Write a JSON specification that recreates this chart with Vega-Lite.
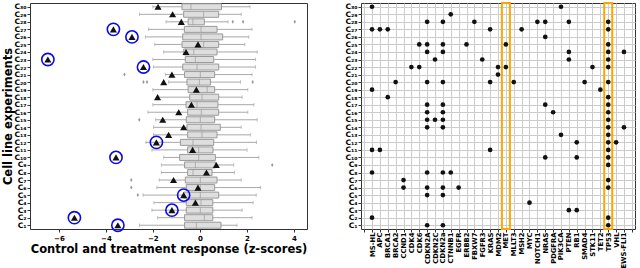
{
  "$schema": "https://vega.github.io/schema/vega-lite/v6.json",
  "padding": {"left": 2, "top": 1, "right": 2, "bottom": 0},
  "spacing": 36,
  "config": {
    "font": "DejaVu Sans",
    "view": {"stroke": "#333333", "strokeWidth": 1},
    "axis": {"labelFontWeight": "bold", "titleFontWeight": "bold", "labelColor": "#000000", "titleColor": "#000000", "tickColor": "#333333", "domain": false, "labelFontSize": 7, "titleFontSize": 11.5, "tickSize": 3}
  },
  "datasets": {
    "boxes": [
      {"exp": "C₃₀", "lw": -2.0, "q1": -0.76, "med": -0.38, "q3": 0.92, "uw": 2.13, "resp": -1.78, "flag": false},
      {"exp": "C₂₉", "lw": -2.57, "q1": -0.69, "med": 0.16, "q3": 0.80, "uw": 1.76, "resp": -1.16, "flag": false},
      {"exp": "C₂₈", "lw": -1.44, "q1": -0.50, "med": -0.30, "q3": 0.19, "uw": 1.20, "resp": -0.79, "flag": false},
      {"exp": "C₂₇", "lw": -2.18, "q1": -0.66, "med": 0.05, "q3": 0.73, "uw": 2.22, "resp": -3.68, "flag": true},
      {"exp": "C₂₆", "lw": -2.32, "q1": -0.73, "med": 0.05, "q3": 0.97, "uw": 2.08, "resp": -2.89, "flag": true},
      {"exp": "C₂₅", "lw": -1.92, "q1": -0.76, "med": 0.16, "q3": 0.80, "uw": 1.91, "resp": -0.08, "flag": false},
      {"exp": "C₂₄", "lw": -1.54, "q1": -0.69, "med": -0.26, "q3": 0.73, "uw": 2.44, "resp": -0.59, "flag": false},
      {"exp": "C₂₃", "lw": -2.0, "q1": -0.62, "med": -0.19, "q3": 0.59, "uw": 2.37, "resp": -6.47, "flag": true},
      {"exp": "C₂₂", "lw": -1.97, "q1": -0.73, "med": -0.12, "q3": 0.80, "uw": 2.37, "resp": -2.40, "flag": true},
      {"exp": "C₂₁", "lw": -1.47, "q1": -0.65, "med": 0.02, "q3": 0.63, "uw": 2.22, "resp": -1.19, "flag": false},
      {"exp": "C₂₀", "lw": -1.33, "q1": -0.55, "med": -0.02, "q3": 0.45, "uw": 1.73, "resp": -1.54, "flag": false},
      {"exp": "C₁₉", "lw": -2.0, "q1": -0.50, "med": 0.31, "q3": 0.63, "uw": 2.04, "resp": -0.15, "flag": false},
      {"exp": "C₁₈", "lw": -1.75, "q1": -0.43, "med": 0.09, "q3": 0.80, "uw": 1.80, "resp": -1.80, "flag": false},
      {"exp": "C₁₇", "lw": -2.0, "q1": -0.59, "med": -0.12, "q3": 0.77, "uw": 2.30, "resp": -0.36, "flag": false},
      {"exp": "C₁₆", "lw": -2.21, "q1": -0.52, "med": 0.06, "q3": 0.80, "uw": 2.04, "resp": -0.90, "flag": false},
      {"exp": "C₁₅", "lw": -1.88, "q1": -0.58, "med": 0.02, "q3": 0.63, "uw": 2.44, "resp": -1.58, "flag": false},
      {"exp": "C₁₄", "lw": -1.97, "q1": -0.55, "med": 0.05, "q3": 0.87, "uw": 1.76, "resp": -0.69, "flag": false},
      {"exp": "C₁₃", "lw": -1.97, "q1": -0.52, "med": 0.09, "q3": 0.73, "uw": 2.15, "resp": -1.33, "flag": false},
      {"exp": "C₁₂", "lw": -2.3, "q1": -0.83, "med": -0.29, "q3": 0.59, "uw": 2.41, "resp": -1.85, "flag": true},
      {"exp": "C₁₁", "lw": -2.04, "q1": -0.52, "med": -0.05, "q3": 0.56, "uw": 2.01, "resp": -0.31, "flag": false},
      {"exp": "C₁₀", "lw": -1.54, "q1": -0.86, "med": -0.05, "q3": 0.66, "uw": 2.51, "resp": -3.57, "flag": true},
      {"exp": "C₉", "lw": -1.64, "q1": -0.65, "med": -0.19, "q3": 0.66, "uw": 1.44, "resp": 0.70, "flag": false},
      {"exp": "C₈", "lw": -1.64, "q1": -0.52, "med": -0.29, "q3": 0.52, "uw": 1.47, "resp": 0.28, "flag": false},
      {"exp": "C₇", "lw": -1.73, "q1": -0.62, "med": 0.02, "q3": 0.73, "uw": 1.76, "resp": -1.12, "flag": false},
      {"exp": "C₆", "lw": -1.83, "q1": -0.58, "med": 0.02, "q3": 0.63, "uw": 2.58, "resp": -0.08, "flag": false},
      {"exp": "C₅", "lw": -2.42, "q1": -0.69, "med": 0.02, "q3": 0.80, "uw": 2.40, "resp": -0.69, "flag": true},
      {"exp": "C₄", "lw": -1.95, "q1": -0.58, "med": 0.05, "q3": 0.55, "uw": 2.27, "resp": -0.19, "flag": false},
      {"exp": "C₃", "lw": -2.04, "q1": -0.58, "med": 0.02, "q3": 0.55, "uw": 1.80, "resp": -1.19, "flag": true},
      {"exp": "C₂", "lw": -1.80, "q1": -0.65, "med": 0.19, "q3": 0.55, "uw": 2.22, "resp": -5.34, "flag": true},
      {"exp": "C₁", "lw": -2.57, "q1": -0.65, "med": -0.15, "q3": 0.90, "uw": 1.58, "resp": -3.49, "flag": true}
    ],
    "outliers": [
      {"exp": "C₂₈", "v": 1.40}, {"exp": "C₂₈", "v": 1.84}, {"exp": "C₂₈", "v": 4.04},
      {"exp": "C₂₁", "v": -3.21},
      {"exp": "C₂₀", "v": -2.40}, {"exp": "C₂₀", "v": -2.25}, {"exp": "C₂₀", "v": 2.25},
      {"exp": "C₁₅", "v": -2.58},
      {"exp": "C₉", "v": 3.08},
      {"exp": "C₇", "v": -2.92},
      {"exp": "C₆", "v": -2.92},
      {"exp": "C₅", "v": -2.64}
    ],
    "hl": [{"gene": "MET"}, {"gene": "TP53"}],
    "muts": [
      {"exp": "C₃₀", "gene": "MS-HL"}, {"exp": "C₃₀", "gene": "PIK3CA"},
      {"exp": "C₂₉", "gene": "CTNNB1"},
      {"exp": "C₂₈", "gene": "CDKN2A"}, {"exp": "C₂₈", "gene": "CDKN2a"}, {"exp": "C₂₈", "gene": "FBXW7"}, {"exp": "C₂₈", "gene": "NOTCH1"}, {"exp": "C₂₈", "gene": "NRAS"}, {"exp": "C₂₈", "gene": "PTEN"}, {"exp": "C₂₈", "gene": "TP53"},
      {"exp": "C₂₇", "gene": "MS-HL"}, {"exp": "C₂₇", "gene": "APC"}, {"exp": "C₂₇", "gene": "BRCA1"}, {"exp": "C₂₇", "gene": "KRAS"}, {"exp": "C₂₇", "gene": "MSH2"}, {"exp": "C₂₇", "gene": "TP53"},
      {"exp": "C₂₆", "gene": "NRAS"},
      {"exp": "C₂₅", "gene": "CDK6"}, {"exp": "C₂₅", "gene": "CDKN2A"}, {"exp": "C₂₅", "gene": "CDKN2a"}, {"exp": "C₂₅", "gene": "ERBB2"}, {"exp": "C₂₅", "gene": "MET"}, {"exp": "C₂₅", "gene": "TP53"},
      {"exp": "C₂₄", "gene": "CDKN2A"}, {"exp": "C₂₄", "gene": "CDKN2a"}, {"exp": "C₂₄", "gene": "PTEN"}, {"exp": "C₂₄", "gene": "TP53"}, {"exp": "C₂₄", "gene": "EWS-FLI1"},
      {"exp": "C₂₃", "gene": "CDKN2C"}, {"exp": "C₂₃", "gene": "FGFR3"}, {"exp": "C₂₃", "gene": "PTEN"}, {"exp": "C₂₃", "gene": "TP53"},
      {"exp": "C₂₂", "gene": "CDK4"}, {"exp": "C₂₂", "gene": "CDK6"}, {"exp": "C₂₂", "gene": "MDM2"}, {"exp": "C₂₂", "gene": "MET"}, {"exp": "C₂₂", "gene": "STK11"}, {"exp": "C₂₂", "gene": "TP53"},
      {"exp": "C₂₁", "gene": "MDM2"},
      {"exp": "C₂₀", "gene": "BRCA2"}, {"exp": "C₂₀", "gene": "CDKN2A"}, {"exp": "C₂₀", "gene": "CDKN2a"}, {"exp": "C₂₀", "gene": "KRAS"}, {"exp": "C₂₀", "gene": "MLLT3"}, {"exp": "C₂₀", "gene": "SMAD4"}, {"exp": "C₂₀", "gene": "TP53"},
      {"exp": "C₁₉", "gene": "MS-HL"}, {"exp": "C₁₉", "gene": "TET2"},
      {"exp": "C₁₈", "gene": "BRCA1"}, {"exp": "C₁₈", "gene": "TP53"},
      {"exp": "C₁₇", "gene": "CDKN2A"}, {"exp": "C₁₇", "gene": "CDKN2a"}, {"exp": "C₁₇", "gene": "NRAS"}, {"exp": "C₁₇", "gene": "TP53"},
      {"exp": "C₁₆", "gene": "CDKN2A"}, {"exp": "C₁₆", "gene": "CDKN2a"}, {"exp": "C₁₆", "gene": "PDGFRA"}, {"exp": "C₁₆", "gene": "TP53"},
      {"exp": "C₁₅", "gene": "CDKN2A"}, {"exp": "C₁₅", "gene": "CDKN2C"}, {"exp": "C₁₅", "gene": "CDKN2a"}, {"exp": "C₁₅", "gene": "TP53"},
      {"exp": "C₁₄", "gene": "CDKN2A"}, {"exp": "C₁₄", "gene": "CDKN2a"}, {"exp": "C₁₄", "gene": "TP53"}, {"exp": "C₁₄", "gene": "EWS-FLI1"},
      {"exp": "C₁₃", "gene": "PIK3CA"}, {"exp": "C₁₃", "gene": "TP53"},
      {"exp": "C₁₂", "gene": "RB1"}, {"exp": "C₁₂", "gene": "TP53"}, {"exp": "C₁₂", "gene": "VHL"},
      {"exp": "C₁₁", "gene": "MS-HL"}, {"exp": "C₁₁", "gene": "APC"}, {"exp": "C₁₁", "gene": "KRAS"}, {"exp": "C₁₁", "gene": "TP53"},
      {"exp": "C₁₀", "gene": "NRAS"}, {"exp": "C₁₀", "gene": "RB1"}, {"exp": "C₁₀", "gene": "TP53"},
      {"exp": "C₉", "gene": "TP53"},
      {"exp": "C₈", "gene": "MS-HL"}, {"exp": "C₈", "gene": "CDKN2A"}, {"exp": "C₈", "gene": "CDKN2a"}, {"exp": "C₈", "gene": "CTNNB1"},
      {"exp": "C₇", "gene": "CCND1"}, {"exp": "C₇", "gene": "TP53"},
      {"exp": "C₆", "gene": "CCND1"}, {"exp": "C₆", "gene": "CDKN2A"}, {"exp": "C₆", "gene": "CDKN2a"}, {"exp": "C₆", "gene": "EGFR"}, {"exp": "C₆", "gene": "TP53"},
      {"exp": "C₅", "gene": "CDKN2A"}, {"exp": "C₅", "gene": "CDKN2a"},
      {"exp": "C₄", "gene": "MYC"},
      {"exp": "C₃", "gene": "PTEN"}, {"exp": "C₃", "gene": "RB1"},
      {"exp": "C₂", "gene": "MS-HL"}, {"exp": "C₂", "gene": "TP53"},
      {"exp": "C₁", "gene": "CDKN2A"}, {"exp": "C₁", "gene": "CDKN2a"}, {"exp": "C₁", "gene": "TP53"}
    ]
  },
  "hconcat": [
    {
      "width": 277,
      "height": 226,
      "layer": [
        {
          "data": {"name": "boxes"},
          "mark": {"type": "rule", "color": "#a8a8a8", "strokeWidth": 1},
          "encoding": {
            "x": {"field": "lw", "type": "quantitative", "scale": {"domain": [-7.23, 4.56], "nice": false, "zero": false},
                  "axis": {"title": "Control and treatment response (z-scores)", "values": [-6, -4, -2, 0, 2, 4], "format": "d", "grid": false, "labelFontSize": 7, "titlePadding": 2}},
            "x2": {"field": "uw"},
            "y": {"field": "exp", "type": "nominal", "sort": null,
                  "scale": {"type": "point", "padding": 0.5, "domain": ["C₃₀","C₂₉","C₂₈","C₂₇","C₂₆","C₂₅","C₂₄","C₂₃","C₂₂","C₂₁","C₂₀","C₁₉","C₁₈","C₁₇","C₁₆","C₁₅","C₁₄","C₁₃","C₁₂","C₁₁","C₁₀","C₉","C₈","C₇","C₆","C₅","C₄","C₃","C₂","C₁"]},
                  "axis": {"title": "Cell line experiments", "labelFontSize": 7.5, "labelPadding": 1, "titlePadding": 0, "grid": false}}
          }
        },
        {
          "data": {"name": "boxes"},
          "mark": {"type": "tick", "color": "#a8a8a8", "size": 3.5, "thickness": 1},
          "encoding": {"x": {"field": "lw", "type": "quantitative"}, "y": {"field": "exp", "type": "nominal"}}
        },
        {
          "data": {"name": "boxes"},
          "mark": {"type": "tick", "color": "#a8a8a8", "size": 3.5, "thickness": 1},
          "encoding": {"x": {"field": "uw", "type": "quantitative"}, "y": {"field": "exp", "type": "nominal"}}
        },
        {
          "data": {"name": "boxes"},
          "mark": {"type": "bar", "size": 6, "fill": "#dedede", "stroke": "#9a9a9a", "strokeWidth": 1},
          "encoding": {"x": {"field": "q1", "type": "quantitative"}, "x2": {"field": "q3"}, "y": {"field": "exp", "type": "nominal"}}
        },
        {
          "data": {"name": "boxes"},
          "mark": {"type": "tick", "color": "#9a9a9a", "size": 6, "thickness": 1},
          "encoding": {"x": {"field": "med", "type": "quantitative"}, "y": {"field": "exp", "type": "nominal"}}
        },
        {
          "data": {"name": "outliers"},
          "mark": {"type": "point", "shape": "M0,-1L0.6,0L0,1L-0.6,0Z", "filled": true, "color": "#999999", "size": 16, "opacity": 1},
          "encoding": {"x": {"field": "v", "type": "quantitative"}, "y": {"field": "exp", "type": "nominal"}}
        },
        {
          "data": {"name": "boxes"},
          "mark": {"type": "point", "shape": "triangle-up", "filled": true, "color": "#111111", "size": 50, "opacity": 1},
          "encoding": {"x": {"field": "resp", "type": "quantitative"}, "y": {"field": "exp", "type": "nominal"}}
        },
        {
          "data": {"name": "boxes"},
          "transform": [{"filter": "datum.flag"}],
          "mark": {"type": "point", "shape": "circle", "filled": false, "color": "#0a0ae6", "size": 150, "strokeWidth": 1.6, "opacity": 1},
          "encoding": {"x": {"field": "resp", "type": "quantitative"}, "y": {"field": "exp", "type": "nominal"}}
        }
      ]
    },
    {
      "width": 274,
      "height": 226,
      "layer": [
        {
          "data": {"name": "muts"},
          "mark": {"type": "point", "shape": "circle", "filled": true, "color": "#111111", "size": 22, "opacity": 1},
          "encoding": {
            "x": {"field": "gene", "type": "nominal",
                  "scale": {"type": "point", "padding": 0.4, "domain": ["_L","MS-HL","APC","BRCA1","BRCA2","CCND1","CDK4","CDK6","CDKN2A","CDKN2C","CDKN2a","CTNNB1","EGFR","ERBB2","FBXW7","FGFR3","KRAS","MDM2","MET","MLLT3","MSH2","MYC","NOTCH1","NRAS","PDGFRA","PIK3CA","PTEN","RB1","SMAD4","STK11","TET2","TP53","VHL","EWS-FLI1","_R"]},
                  "axis": {"title": null, "labelAngle": -90, "labelFontSize": 6.8, "grid": true, "gridColor": "#cccccc", "gridWidth": 1, "labelPadding": 0,
                           "labelExpr": "datum.value == '_L' || datum.value == '_R' ? '' : datum.label"}},
            "y": {"field": "exp", "type": "nominal", "sort": null,
                  "scale": {"type": "point", "padding": 0.5, "domain": ["C₃₀","C₂₉","C₂₈","C₂₇","C₂₆","C₂₅","C₂₄","C₂₃","C₂₂","C₂₁","C₂₀","C₁₉","C₁₈","C₁₇","C₁₆","C₁₅","C₁₄","C₁₃","C₁₂","C₁₁","C₁₀","C₉","C₈","C₇","C₆","C₅","C₄","C₃","C₂","C₁"]},
                  "axis": {"title": null, "labelFontSize": 7.5, "labelPadding": 1, "grid": true, "gridColor": "#cccccc", "gridWidth": 1}}
          }
        },
        {
          "data": {"name": "hl"},
          "mark": {"type": "bar", "width": 8, "fill": "transparent", "stroke": "#ffa500", "strokeWidth": 2},
          "encoding": {"x": {"field": "gene", "type": "nominal"}}
        }
      ]
    }
  ]
}
